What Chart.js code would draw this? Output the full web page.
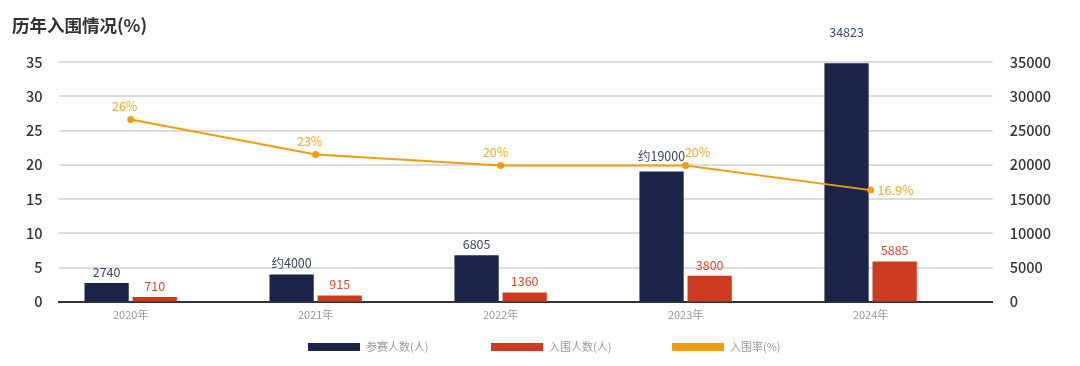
<!DOCTYPE html>
<html>
<head>
<meta charset="utf-8">
<script src="https://cdn.jsdelivr.net/npm/chart.js@4.4.1/dist/chart.umd.min.js"></script>
<style>
html,body{margin:0;padding:0;background:#fff;}
#wrap{width:1080px;height:366px;position:relative;}
</style>
</head>
<body>
<div id="wrap"><canvas id="c" width="1080" height="366"></canvas></div>
<script>
const categories = ['2020年','2021年','2022年','2023年','2024年'];
const participants = [2740, 4000, 6805, 19000, 34823];
const participantLabels = ['2740','约4000','6805','约19000','34823'];
const finalists = [710, 915, 1360, 3800, 5885];
const finalistLabels = ['710','915','1360','3800','5885'];
const rate = [26.6, 21.5, 19.9, 19.9, 16.3];
const rateLabels = ['26%','23%','20%','20%','16.9%'];
const leftTicks = [0,5,10,15,20,25,30,35];
const rightTicks = [0,5000,10000,15000,20000,25000,30000,35000];

const FONT = '"Noto Sans CJK SC","Noto Sans",sans-serif';
const NAVY = '#1b2549';
const RED = '#cd3a1f';
const ORANGE = '#f39c12';

const toXY = arr => arr.map((v, i) => ({ x: i, y: v }));

const labelPlugin = {
  id: 'valueLabels',
  afterDatasetsDraw(chart) {
    const ctx = chart.ctx;
    chart.data.datasets.forEach((ds, di) => {
      const meta = chart.getDatasetMeta(di);
      const cfg = ds.valueLabels;
      if (!cfg) return;
      meta.data.forEach((el, i) => {
        ctx.save();
        ctx.font = '12.5px ' + FONT;
        ctx.fillStyle = cfg.color;
        ctx.textBaseline = 'middle';
        let x = el.x + ((cfg.dx && cfg.dx[i]) || 0), y = el.y;
        const pos = (cfg.pos && cfg.pos[i]) || 'top';
        if (pos === 'right') {
          ctx.textAlign = 'left';
          x += 7;
        } else {
          ctx.textAlign = 'center';
          y -= (cfg.offsets && cfg.offsets[i]) || cfg.offset;
        }
        ctx.fillText(cfg.texts[i], x, y);
        ctx.restore();
      });
    });
  }
};

const decorPlugin = {
  id: 'decor',
  afterDraw(chart) {
    const ctx = chart.ctx;
    ctx.save();
    ctx.font = 'bold 17.5px ' + FONT;
    ctx.fillStyle = '#333';
    ctx.textAlign = 'left';
    ctx.textBaseline = 'middle';
    ctx.fillText('历年入围情况(%)', 12, 25);
    const ds = chart.data.datasets;
    const items = [[1, 308], [2, 491], [0, 672]];
    ctx.font = '11px ' + FONT;
    items.forEach(([i, x]) => {
      ctx.fillStyle = ds[i].backgroundColor;
      ctx.fillRect(x, 343, 52, 8);
      ctx.fillStyle = '#9a9a9a';
      ctx.fillText(ds[i].label, x + 58, 347);
    });
    ctx.restore();
  }
};

new Chart(document.getElementById('c'), {
  data: {
    datasets: [
      {
        type: 'line',
        label: '入围率(%)',
        data: toXY(rate),
        yAxisID: 'y',
        borderColor: ORANGE,
        backgroundColor: ORANGE,
        borderWidth: 2,
        pointRadius: 3.5,
        pointBackgroundColor: ORANGE,
        pointBorderWidth: 0,
        tension: 0,
        order: 0,
        valueLabels: { texts: rateLabels, color: '#f5a623', offset: 13, dx: [-6, -6, -5, 12, 0], pos: [null,null,null,null,'right'] }
      },
      {
        type: 'bar',
        label: '参赛人数(人)',
        data: toXY(participants),
        yAxisID: 'y1',
        backgroundColor: NAVY,
        categoryPercentage: 0.52,
        barPercentage: 0.92,
        order: 1,
        valueLabels: { texts: participantLabels, color: '#3b4862', offset: 11, offsets: [null,null,null,15,31] }
      },
      {
        type: 'bar',
        label: '入围人数(人)',
        data: toXY(finalists),
        yAxisID: 'y1',
        backgroundColor: RED,
        categoryPercentage: 0.52,
        barPercentage: 0.92,
        order: 2,
        valueLabels: { texts: finalistLabels, color: '#d84a2b', offset: 11 }
      }
    ]
  },
  options: {
    responsive: false,
    animation: false,
    layout: { padding: { top: 62, left: 10, right: 12, bottom: 39 } },
    plugins: {
      tooltip: { enabled: false },
      title: { display: false },
      legend: { display: false }
    },
    scales: {
      x: {
        type: 'linear',
        min: -0.39,
        max: 4.66,
        offset: false,
        afterBuildTicks(axis) { axis.ticks = categories.map((c, i) => ({ value: i })); },
        grid: { display: false, drawTicks: false },
        border: { color: '#333', width: 2 },
        ticks: {
          font: { family: FONT, size: 11 }, color: '#999', padding: 6,
          callback: v => categories[v]
        }
      },
      y: {
        position: 'left',
        min: 0, max: 35,
        afterBuildTicks(axis) { axis.ticks = leftTicks.map(v => ({ value: v })); },
        grid: { color: '#dcdcdc', lineWidth: 2, drawTicks: false },
        border: { display: false },
        ticks: { font: { family: FONT, size: 14.5, weight: '500' }, color: '#333', padding: 16 }
      },
      y1: {
        position: 'right',
        min: 0, max: 35000,
        afterBuildTicks(axis) { axis.ticks = rightTicks.map(v => ({ value: v })); },
        grid: { display: false, drawTicks: false },
        border: { display: false },
        ticks: { font: { family: FONT, size: 14.5, weight: '500' }, color: '#333', padding: 17, callback: v => String(v) }
      }
    }
  },
  plugins: [labelPlugin, decorPlugin]
});
</script>
</body>
</html>
